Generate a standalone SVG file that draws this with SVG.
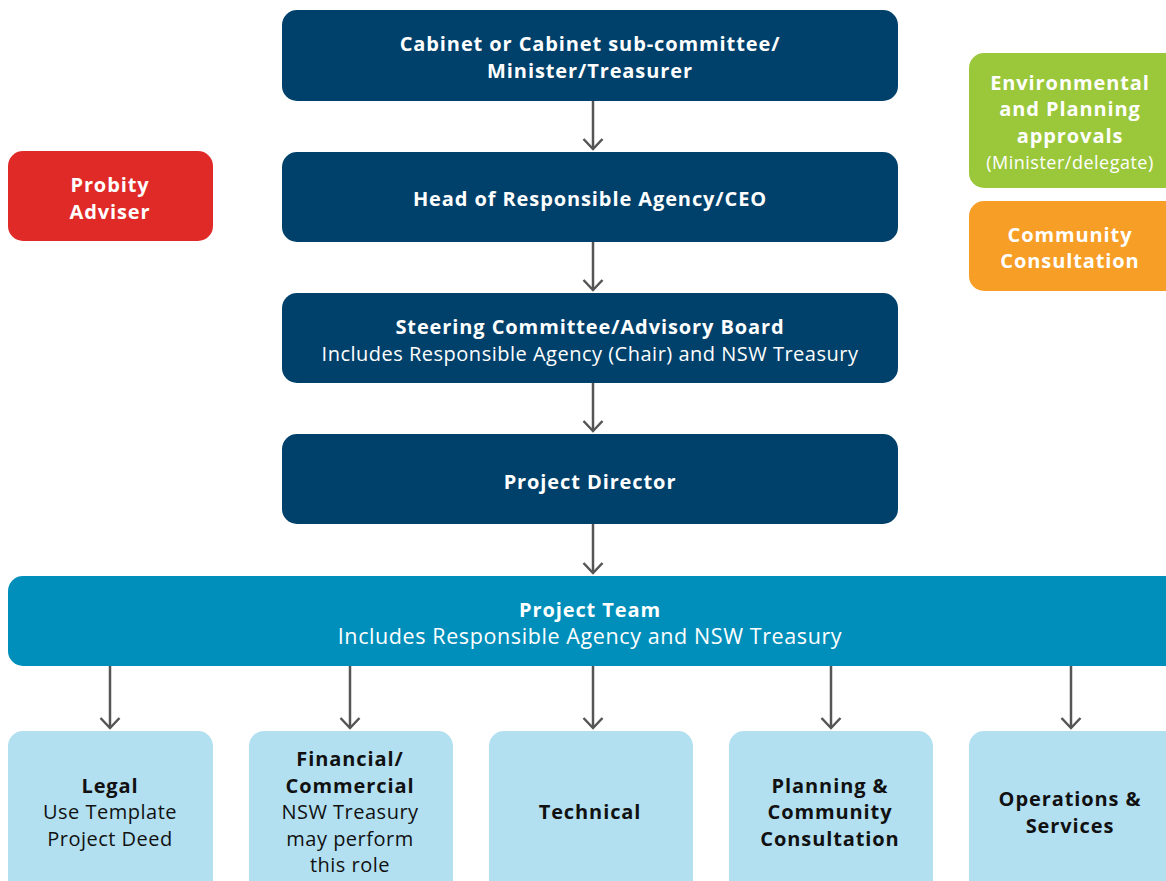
<svg xmlns="http://www.w3.org/2000/svg" width="1166" height="881" viewBox="0 0 1166 881">
  <defs>
    <style>
      .t { font-family: "Open Sans", "Liberation Sans", sans-serif; text-anchor: middle; }
      .b { font-weight: 700; font-size: 20px; letter-spacing: 0.9px; }
      .r { font-weight: 400; font-size: 20px; letter-spacing: 0.5px; }
      .w { fill: #ffffff; }
      .k { fill: #111111; }
      .navy { fill: #00416B; }
      .teal { fill: #008FBB; }
      .light { fill: #B2E0F1; }
      .conn { stroke: #555555; stroke-width: 2.5; fill: none; }
    </style>
    <!-- open chevron arrowhead, drawn along +x so orient="auto" follows the line -->
    <marker id="arrow" viewBox="0 0 14 22" refX="12" refY="11" markerWidth="14" markerHeight="22" markerUnits="userSpaceOnUse" orient="auto">
      <path d="M2 1.5 L12 11 L2 20.5" fill="none" stroke="#555555" stroke-width="2.5"/>
    </marker>
  </defs>

  <rect width="1166" height="881" fill="#ffffff"/>

  <!-- connectors -->
  <g id="connectors">
    <line class="conn" x1="593" y1="101" x2="593" y2="149" marker-end="url(#arrow)"/>
    <line class="conn" x1="593" y1="242" x2="593" y2="290" marker-end="url(#arrow)"/>
    <line class="conn" x1="593" y1="383" x2="593" y2="431" marker-end="url(#arrow)"/>
    <line class="conn" x1="593" y1="524" x2="593" y2="573" marker-end="url(#arrow)"/>
    <line class="conn" x1="110" y1="666" x2="110" y2="728" marker-end="url(#arrow)"/>
    <line class="conn" x1="350" y1="666" x2="350" y2="728" marker-end="url(#arrow)"/>
    <line class="conn" x1="593" y1="666" x2="593" y2="728" marker-end="url(#arrow)"/>
    <line class="conn" x1="831" y1="666" x2="831" y2="728" marker-end="url(#arrow)"/>
    <line class="conn" x1="1071" y1="666" x2="1071" y2="728" marker-end="url(#arrow)"/>
  </g>

  <!-- governance chain -->
  <g id="cabinet">
    <rect class="navy" x="282" y="10" width="616" height="91" rx="15"/>
    <text class="t b w" x="590" y="51">Cabinet or Cabinet sub-committee/</text>
    <text class="t b w" x="590" y="78">Minister/Treasurer</text>
  </g>
  <g id="head">
    <rect class="navy" x="282" y="152" width="616" height="90" rx="15"/>
    <text class="t b w" x="590" y="206">Head of Responsible Agency/CEO</text>
  </g>
  <g id="steering">
    <rect class="navy" x="282" y="293" width="616" height="90" rx="15"/>
    <text class="t b w" x="590" y="334">Steering Committee/Advisory Board</text>
    <text class="t r w" x="590" y="361">Includes Responsible Agency (Chair) and NSW Treasury</text>
  </g>
  <g id="director">
    <rect class="navy" x="282" y="434" width="616" height="90" rx="15"/>
    <text class="t b w" x="590" y="489">Project Director</text>
  </g>

  <!-- side advisers -->
  <g id="probity">
    <rect x="8" y="151" width="205" height="90" rx="15" fill="#E02A27"/>
    <text class="t b w" x="110" y="192">Probity</text>
    <text class="t b w" x="110" y="219">Adviser</text>
  </g>
  <g id="approvals">
    <rect x="969" y="53" width="215" height="135" rx="15" fill="#9BC83B"/>
    <text class="t b w" x="1070" y="90">Environmental</text>
    <text class="t b w" x="1070" y="116">and Planning</text>
    <text class="t b w" x="1070" y="143">approvals</text>
    <text class="t r w" x="1070" y="169" style="font-size:18px">(Minister/delegate)</text>
  </g>
  <g id="community">
    <rect x="969" y="201" width="215" height="90" rx="15" fill="#F79E26"/>
    <text class="t b w" x="1070" y="242">Community</text>
    <text class="t b w" x="1070" y="268">Consultation</text>
  </g>

  <!-- project team -->
  <g id="team">
    <rect class="teal" x="8" y="576" width="1180" height="90" rx="15"/>
    <text class="t b w" x="590" y="617">Project Team</text>
    <text class="t r w" x="590" y="644" style="font-size:21.5px;letter-spacing:0.6px">Includes Responsible Agency and NSW Treasury</text>
  </g>

  <!-- workstreams -->
  <g id="legal">
    <rect class="light" x="8" y="731" width="205" height="170" rx="15"/>
    <text class="t b k" x="110" y="793">Legal</text>
    <text class="t r k" x="110" y="819">Use Template</text>
    <text class="t r k" x="110" y="846">Project Deed</text>
  </g>
  <g id="financial">
    <rect class="light" x="249" y="731" width="204" height="170" rx="15"/>
    <text class="t b k" x="350" y="766">Financial/</text>
    <text class="t b k" x="350" y="793">Commercial</text>
    <text class="t r k" x="350" y="819">NSW Treasury</text>
    <text class="t r k" x="350" y="846">may perform</text>
    <text class="t r k" x="350" y="872">this role</text>
  </g>
  <g id="technical">
    <rect class="light" x="489" y="731" width="204" height="170" rx="15"/>
    <text class="t b k" x="590" y="819">Technical</text>
  </g>
  <g id="planning">
    <rect class="light" x="729" y="731" width="204" height="170" rx="15"/>
    <text class="t b k" x="830" y="793">Planning &amp;</text>
    <text class="t b k" x="830" y="819">Community</text>
    <text class="t b k" x="830" y="846">Consultation</text>
  </g>
  <g id="operations">
    <rect class="light" x="969" y="731" width="215" height="170" rx="15"/>
    <text class="t b k" x="1070" y="806">Operations &amp;</text>
    <text class="t b k" x="1070" y="833">Services</text>
  </g>
</svg>
